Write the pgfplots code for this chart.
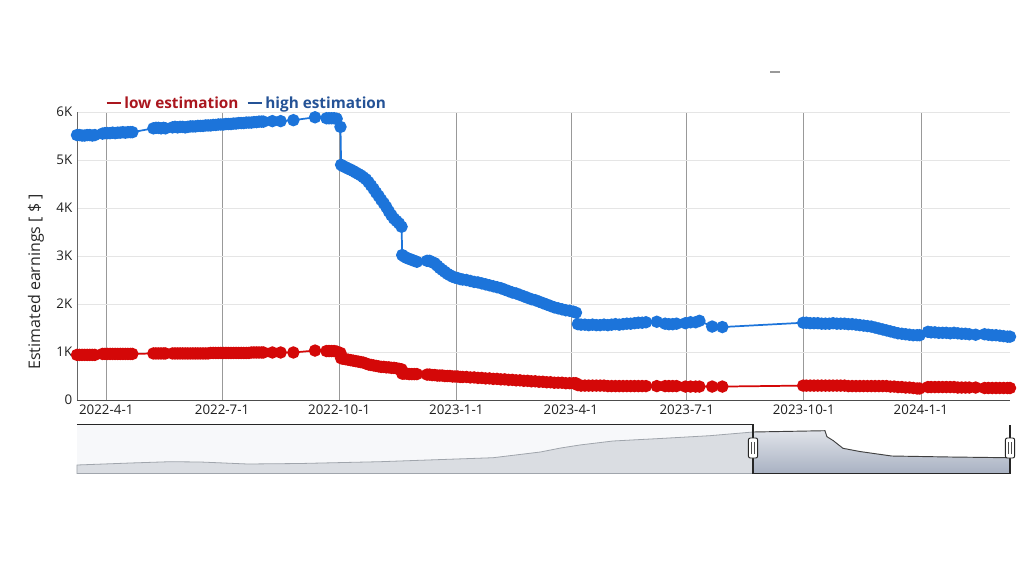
\documentclass[border=0pt]{standalone}
\usepackage{fontspec}
\setmainfont{Open Sans}
\usepackage{pgfplots}
\pgfplotsset{compat=1.18}
\usepackage{pgfplotstable}

\definecolor{hiblue}{RGB}{28,116,218}
\definecolor{lored}{RGB}{212,8,8}
\definecolor{legred}{RGB}{170,22,30}
\definecolor{legblue}{RGB}{36,82,150}
\definecolor{ovfill}{RGB}{218,221,226}
\definecolor{ovline}{RGB}{160,165,172}
\definecolor{ovbg}{RGB}{247,248,250}
\definecolor{seltop}{RGB}{224,227,233}
\definecolor{selbot}{RGB}{168,177,194}

% days since 2022-04-01, high and low estimation in thousands of $
\pgfplotstableread{
d hi lo
-23 5.52 0.94
-21 5.52 0.94
-19 5.51 0.94
-17 5.51 0.94
-15 5.52 0.94
-13 5.52 0.94
-11 5.51 0.94
-9 5.52 0.94
-3 5.55 0.96
-1 5.56 0.96
1 5.56 0.96
3 5.56 0.96
5 5.57 0.96
7 5.56 0.96
9 5.57 0.96
11 5.57 0.96
13 5.58 0.96
15 5.57 0.96
17 5.58 0.96
19 5.58 0.96
20.5 5.58 0.96
37 5.66 0.97
39 5.67 0.97
41 5.67 0.97
43 5.66 0.97
45 5.67 0.97
46.5 5.66 0.97
52 5.68 0.97
54 5.69 0.97
56 5.68 0.97
58 5.69 0.97
60 5.69 0.97
62 5.68 0.97
64 5.69 0.97
66 5.70 0.97
68 5.70 0.97
70 5.70 0.97
72 5.71 0.97
74 5.71 0.97
76 5.71 0.97
78 5.72 0.97
80 5.72 0.97
82 5.72 0.98
84 5.73 0.98
86 5.73 0.98
88 5.74 0.98
90 5.74 0.98
92 5.74 0.98
94 5.75 0.98
96 5.75 0.98
98 5.75 0.98
100 5.76 0.98
102 5.76 0.98
104 5.77 0.98
106 5.77 0.98
108 5.77 0.98
110 5.78 0.98
112 5.78 0.98
114 5.78 0.99
116 5.79 0.99
118 5.79 0.99
120 5.80 0.99
122 5.80 0.99
123.5 5.80 0.99
130.5 5.81 0.99
137 5.81 0.99
147 5.83 0.99
164 5.89 1.03
173 5.87 1.02
175 5.87 1.02
177 5.87 1.02
179 5.87 1.02
181 5.86 1.01
184 5.69 0.98
184.5 4.90 0.87
186 4.87 0.86
188 4.85 0.85
190 4.82 0.84
192 4.80 0.83
194 4.77 0.82
196 4.74 0.81
198 4.71 0.80
200 4.68 0.79
202 4.64 0.78
204 4.60 0.76
206 4.54 0.74
208 4.47 0.73
210 4.40 0.72
212 4.32 0.71
214 4.25 0.70
216 4.17 0.69
218 4.10 0.69
220 4.02 0.68
222 3.93 0.68
224 3.85 0.67
226 3.78 0.67
228 3.73 0.66
230 3.68 0.65
232 3.61 0.64
232.5 3.02 0.55
234 2.99 0.55
236 2.96 0.55
238 2.94 0.54
240 2.92 0.54
242 2.90 0.54
244 2.88 0.54
252 2.90 0.53
254 2.90 0.53
256 2.87 0.52
258 2.85 0.52
260 2.80 0.51
262 2.75 0.51
264 2.71 0.51
266 2.67 0.50
268 2.63 0.50
270 2.60 0.50
272 2.57 0.49
274 2.55 0.49
276 2.54 0.49
278 2.52 0.48
280 2.51 0.48
283 2.50 0.48
286 2.48 0.47
289 2.46 0.47
292 2.45 0.46
295 2.43 0.46
298 2.41 0.45
301 2.39 0.45
304 2.37 0.44
307 2.35 0.44
310 2.33 0.43
313 2.30 0.43
316 2.27 0.42
319 2.24 0.42
322 2.22 0.41
325 2.19 0.41
328 2.16 0.40
331 2.13 0.40
334 2.10 0.39
337 2.08 0.39
340 2.05 0.38
343 2.02 0.38
346 1.99 0.37
349 1.96 0.37
352 1.93 0.36
355 1.91 0.36
358 1.89 0.36
361 1.87 0.35
364 1.86 0.35
367 1.84 0.35
369 1.82 0.35
370.5 1.58 0.31
373 1.57 0.30
376 1.57 0.30
379 1.56 0.30
382 1.57 0.30
385 1.56 0.30
388 1.56 0.30
391 1.57 0.30
394 1.56 0.29
397 1.57 0.29
400 1.58 0.29
403 1.57 0.29
406 1.58 0.29
409 1.59 0.29
412 1.59 0.29
415 1.60 0.29
418 1.61 0.29
421 1.61 0.29
424 1.62 0.29
432.5 1.63 0.29
439 1.59 0.29
442 1.58 0.29
445 1.58 0.29
448 1.59 0.29
455 1.60 0.28
459 1.62 0.28
463 1.62 0.28
466 1.65 0.28
476 1.53 0.28
484 1.52 0.28
547.5 1.61 0.30
550 1.61 0.30
553 1.60 0.30
556 1.60 0.30
559 1.60 0.30
562 1.59 0.30
565 1.59 0.30
568 1.59 0.30
571 1.60 0.30
574 1.59 0.30
577 1.59 0.30
580 1.59 0.30
583 1.58 0.29
586 1.58 0.29
589 1.57 0.29
592 1.56 0.29
595 1.55 0.29
598 1.54 0.29
601 1.53 0.29
604 1.51 0.29
607 1.49 0.29
610 1.47 0.29
613 1.45 0.29
616 1.43 0.28
619 1.41 0.28
622 1.39 0.27
625 1.38 0.27
628 1.37 0.26
631 1.36 0.26
634 1.35 0.25
637 1.35 0.24
639 1.35 0.24
645.5 1.42 0.27
648 1.41 0.27
651 1.41 0.27
654 1.40 0.27
657 1.40 0.27
660 1.40 0.27
663 1.39 0.27
666 1.40 0.27
669 1.39 0.26
672 1.38 0.26
675 1.38 0.26
678 1.37 0.26
683 1.36 0.26
690 1.37 0.25
693 1.36 0.25
696 1.35 0.25
699 1.35 0.25
702 1.34 0.25
705 1.33 0.25
708 1.32 0.25
710 1.32 0.25
}\est

% overview (data zoom) profile, arbitrary height units
\pgfplotstableread{
d h
-23 8.5
19 10.5
50 11.8
74 11.5
111 9.5
152 10
215 11.8
304 15.8
341 21.5
357 25.5
372 28.5
398 32.5
435 35
474 37.8
508.1 41.5
}\ovleft
\pgfplotstableread{
d h
508.1 41.5
564.6 42.8
566.2 36.8
571 33
578.8 25.2
592 22
617 17.5
663 16.5
708 15.8
710 15.8
}\ovright

\begin{document}
\begin{tikzpicture}
\useasboundingbox (-57.75pt,-126.75pt) rectangle (710.25pt,300pt);
\begin{axis}[
  at={(0pt,0pt)}, anchor=south west,
  width=699.75pt, height=216pt, scale only axis,
  xmin=-23, xmax=710, ymin=0, ymax=6,
  axis x line*=bottom, axis y line*=left, axis line style={-},
  x axis line style={draw=black!70, line width=0.7pt},
  y axis line style={draw=black!60, line width=0.6pt},
  xtick={0,91,183,275,365,456,548,640},
  xticklabels={2022-4-1,2022-7-1,2022-10-1,2023-1-1,2023-4-1,2023-7-1,2023-10-1,2024-1-1},
  ytick={0,1,2,3,4,5,6},
  yticklabels={0,1K,2K,3K,4K,5K,6K},
  major tick length=0pt,
  /pgf/number format/assume math mode=true,
  xmajorgrids, ymajorgrids,
  x grid style={black!40, line width=0.55pt},
  y grid style={black!10, line width=0.7pt},
  tick label style={font=\fontsize{10}{12}\selectfont, text=black!88},
  ylabel={Estimated earnings [ \$ ]},
  ylabel style={at={(axis description cs:-0.044,0.41)}, anchor=center,
    font=\fontsize{12}{14}\selectfont, text=black!85},
  legend columns=2,
  legend cell align=left,
  legend style={at={(rel axis cs:0.026,1.03)}, anchor=west, draw=none, fill=none,
    font=\bfseries\fontsize{11.5}{13}\selectfont,
    /tikz/every even column/.append style={column sep=4pt}},
]
\addplot[color=lored, line width=1.3pt, mark=*, mark size=4pt,
  mark options={draw=none, fill=lored},
  legend image code/.code={\draw[legred, line width=1.6pt] (0pt,0pt) -- (10.5pt,0pt);}]
  table[x=d, y=lo] {\est};
\addlegendentry{\textcolor{legred}{low estimation}}
\addplot[color=hiblue, line width=1.3pt, mark=*, mark size=4pt,
  mark options={draw=none, fill=hiblue},
  legend image code/.code={\draw[legblue, line width=1.6pt] (0pt,0pt) -- (10.5pt,0pt);}]
  table[x=d, y=hi] {\est};
\addlegendentry{\textcolor{legblue}{high estimation}}
\draw[black!60, line width=0.6pt] (rel axis cs:0,1) -- ++(0pt,15pt);
\end{axis}

% data zoom slider
\begin{axis}[
  at={(0pt,-55.125pt)}, anchor=south west,
  width=699.75pt, height=36.75pt, scale only axis,
  xmin=-23, xmax=710, ymin=0, ymax=49,
  axis lines=none, ticks=none, clip=false,
]
\fill[ovbg] (axis cs:-23,0) rectangle (axis cs:508.1,49);
\addplot[draw=ovline, line width=0.6pt, fill=ovfill] table[x=d, y=h] {\ovleft} \closedcycle;
\addplot[draw=black!75, line width=0.7pt, top color=seltop, bottom color=selbot] table[x=d, y=h] {\ovright} \closedcycle;
\draw[black!85, line width=0.8pt] (axis cs:-23,49) -- (axis cs:508.1,49) -- (axis cs:508.1,0) -- (axis cs:710,0) -- (axis cs:710,49);
\draw[black!85, fill=white, rounded corners=1.5pt, line width=0.7pt]
  ([xshift=-3.5pt]axis cs:508.1,15.5) rectangle ([xshift=3.5pt]axis cs:508.1,35.5);
\draw[black!70, line width=0.5pt] ([xshift=-1pt]axis cs:508.1,19.5) -- ([xshift=-1pt]axis cs:508.1,31.5);
\draw[black!70, line width=0.5pt] ([xshift=1pt]axis cs:508.1,19.5) -- ([xshift=1pt]axis cs:508.1,31.5);
\draw[black!85, fill=white, rounded corners=1.5pt, line width=0.7pt]
  ([xshift=-3.5pt]axis cs:710,15.5) rectangle ([xshift=3.5pt]axis cs:710,35.5);
\draw[black!70, line width=0.5pt] ([xshift=-1pt]axis cs:710,19.5) -- ([xshift=-1pt]axis cs:710,31.5);
\draw[black!70, line width=0.5pt] ([xshift=1pt]axis cs:710,19.5) -- ([xshift=1pt]axis cs:710,31.5);
\end{axis}
\draw[black!40, line width=0.8pt] (520pt,246pt) -- (527pt,246pt);
\end{tikzpicture}
\end{document}
